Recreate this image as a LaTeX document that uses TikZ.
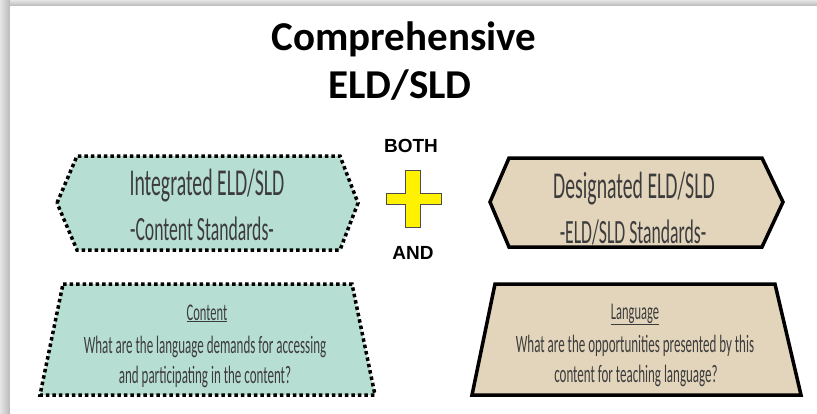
\documentclass[tikz,border=0pt]{standalone}
\usepackage{fontspec}
\usepackage{xcolor}
\setmainfont{Carlito}
\newfontfamily\handfont[FakeStretch=0.52]{Carlito}
\newfontfamily\boldsans{Liberation Sans}
\definecolor{mint}{HTML}{B7DED3}
\definecolor{sand}{HTML}{E3D5BC}
\definecolor{ink}{HTML}{3C3C3C}
\newcommand{\handsize}[1]{\handfont\fontsize{#1}{#1}\selectfont}

\begin{document}
\begin{tikzpicture}[x=1pt,y=-1pt]
\tikzstyle{every node}+=[inner sep=0pt]
\tikzstyle{dotframe}=[draw=black, line width=3.5pt, dash pattern=on 3.5pt off 3pt]
\tikzstyle{solidframe}=[draw=black, line width=3.5pt, line join=miter]
\tikzstyle{handtext}=[anchor=base, text=ink]
\useasboundingbox (0,0) rectangle (817,413);
% page shadow
\fill [gray!40] (0,0) rectangle (817,413);
\shade [top color=gray!20, bottom color=gray!55] (0,0) rectangle (817,6);
\shade [left color=gray!20, right color=gray!55] (0,0) rectangle (10,413);
\fill [white] (10,6) rectangle (817,413);
% title
\node [anchor=base, font=\bfseries\fontsize{41}{41}\selectfont] (title1) at (404,50) {Comprehensive};
\node [anchor=base, font=\bfseries\fontsize{41}{41}\selectfont] (title2) at (400,98) {ELD/SLD};
% hexagons
\fill [mint] (57,203) -- (77,156) -- (340,156) -- (358,203) -- (340,250) -- (77,250) -- cycle;
\draw [dotframe] (57,203) -- (77,156) -- (340,156) -- (358,203) -- (340,250) -- (77,250) -- cycle;
\draw [solidframe, fill=sand] (490,202) -- (509,158) -- (762,158) -- (783,202) -- (762,247) -- (509,247) -- cycle;
\node [handtext, font=\handsize{38}] (intg) at (207,195) {Integrated ELD/SLD};
\node [handtext, font=\handsize{34}] (intstd) at (202,240) {-Content Standards-};
\node [handtext, font=\handsize{38}] (desg) at (634,198) {Designated ELD/SLD};
\node [handtext, font=\handsize{34}] (desstd) at (633,243) {-ELD/SLD Standards-};
% plus sign
\draw [fill=yellow, draw=black!70, line width=0.8pt] (405,170) -- (420,170) -- (420,193) -- (441,193) -- (441,204) -- (420,204) -- (420,227) -- (405,227) -- (405,204) -- (386,204) -- (386,193) -- (405,193) -- cycle;
\node [anchor=base, font=\boldsans\bfseries\fontsize{19}{19}\selectfont] (both) at (411,152) {BOTH};
\node [anchor=base, font=\boldsans\bfseries\fontsize{19}{19}\selectfont] (and) at (413,259) {AND};
% trapezoids
\fill [mint] (63,284) -- (352,284) -- (375,395) -- (40,395) -- cycle;
\draw [dotframe] (63,284) -- (352,284) -- (375,395) -- (40,395) -- cycle;
\draw [solidframe, fill=sand] (495,284) -- (775,284) -- (801,395) -- (472,395) -- cycle;
\node [handtext, font=\handsize{24}] (cont) at (207,320) {\underline{Content}};
\node [handtext, font=\handsize{25}] (contq1) at (205,353) {What are the language demands for accessing};
\node [handtext, font=\handsize{25}] (contq2) at (205,383) {and participating in the content?};
\node [handtext, font=\handsize{24}] (lang) at (635,319) {\underline{Language}};
\node [handtext, font=\handsize{25}] (langq1) at (635,352) {What are the opportunities presented by this};
\node [handtext, font=\handsize{25}] (langq2) at (636,382) {content for teaching language?};
\end{tikzpicture}
\end{document}
